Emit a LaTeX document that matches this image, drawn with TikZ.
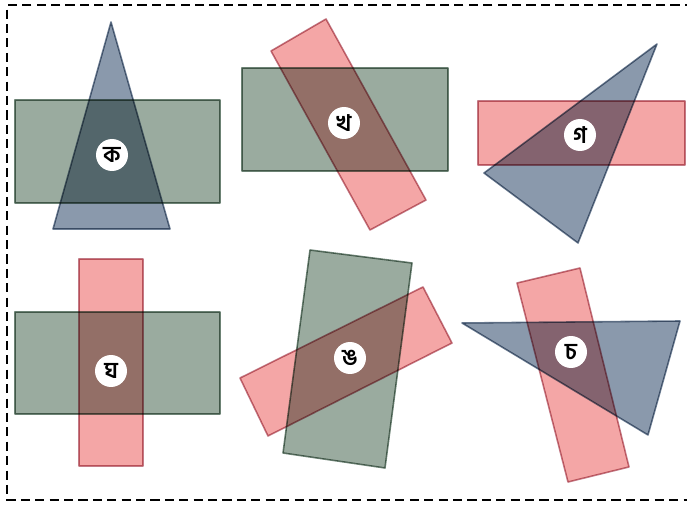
\documentclass[tikz,border=0pt]{standalone}
\usepackage{fontspec}
\usepackage{xcolor}
\usepackage{tikz}
\newfontfamily\bengalifont[Script=Bengali]{Hind Siliguri}
\definecolor{ShapeGreen}{HTML}{9AAB9F}
\definecolor{ShapePink}{HTML}{F4A6A6}
\definecolor{ShapeBlue}{HTML}{8A99AC}
\definecolor{EdgeGreen}{HTML}{6C8274}
\definecolor{EdgePink}{HTML}{C27A86}
\definecolor{EdgeBlue}{HTML}{6D7E94}
\tikzset{
  piece/.style={blend mode=multiply, line width=0.9pt, line join=round},
  greenpiece/.style={piece, fill=ShapeGreen, draw=EdgeGreen},
  pinkpiece/.style={piece, fill=ShapePink, draw=EdgePink},
  bluepiece/.style={piece, fill=ShapeBlue, draw=EdgeBlue},
  tag/.style={circle, fill=white, minimum size=0.64cm, inner sep=0pt,
    font=\bengalifont\bfseries\fontsize{13}{13}\selectfont}
}
\begin{document}
\begin{tikzpicture}[x=0.02cm, y=-0.02cm]
  \useasboundingbox (0,0) rectangle (687,506);
  % frame, right side runs off the page
  \draw[black, line width=1.7pt, dash pattern=on 5.2pt off 3pt] (694,5) -- (7,5) -- (7,500) -- (694,500);
  % ka
  \draw[greenpiece] (15,100) rectangle (220,203);
  \draw[bluepiece] (111,22) -- (170,229) -- (53,229) -- cycle;
  \node[tag] (ka) at (112,155) {ক};
  % kha
  \draw[greenpiece] (242,68) rectangle (448,171);
  \draw[pinkpiece] (271,51) -- (326,19) -- (426,200) -- (370,230) -- cycle;
  \node[tag] (kha) at (344,123) {খ};
  % ga
  \draw[pinkpiece] (478,101) rectangle (685,165);
  \draw[bluepiece] (657,44) -- (578,243) -- (484,173) -- cycle;
  \node[tag] (ga) at (580,135) {গ};
  % gha
  \draw[greenpiece] (15,312) rectangle (220,414);
  \draw[pinkpiece] (79,259) rectangle (143,466);
  \node[tag] (gha) at (111,371) {ঘ};
  % nga
  \draw[greenpiece] (310,250) -- (412,263) -- (385,468) -- (283,453) -- cycle;
  \draw[pinkpiece] (240,378) -- (423,287) -- (452,343) -- (268,436) -- cycle;
  \node[tag] (nga) at (350,358) {ঙ};
  % ca
  \draw[bluepiece] (462,323) -- (680,321) -- (648,435) -- cycle;
  \draw[pinkpiece] (517,283) -- (580,268) -- (629,467) -- (568,482) -- cycle;
  \node[tag] (ca) at (571,352) {চ};
\end{tikzpicture}
\end{document}
